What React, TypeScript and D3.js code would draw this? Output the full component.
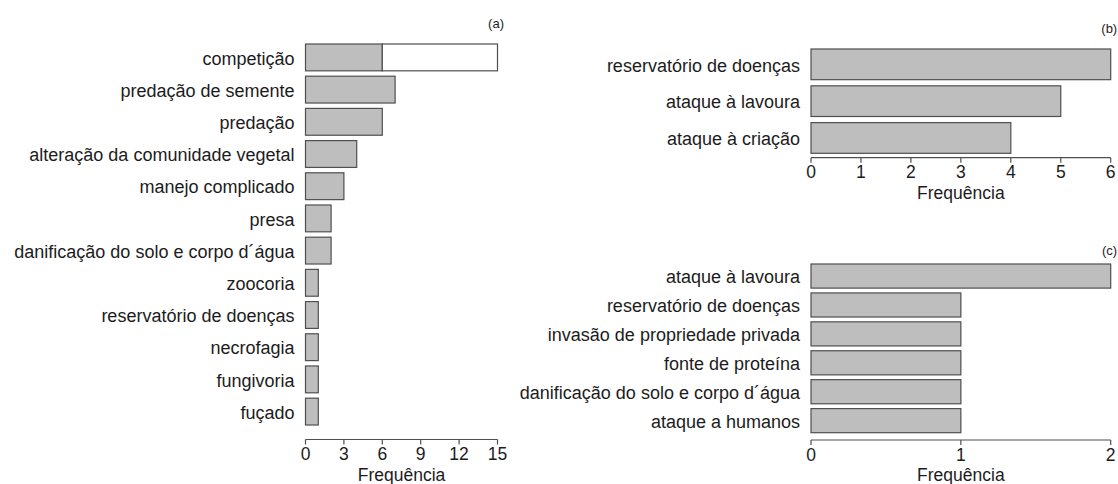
import React from 'react';
import * as d3 from 'd3';

const W = 1118;
const H = 484;

// panel (a)
const catsA = [
  'competição',
  'predação de semente',
  'predação',
  'alteração da comunidade vegetal',
  'manejo complicado',
  'presa',
  'danificação do solo e corpo d´água',
  'zoocoria',
  'reservatório de doenças',
  'necrofagia',
  'fungivoria',
  'fuçado',
];
const grayA = [6, 7, 6, 4, 3, 2, 2, 1, 1, 1, 1, 1];
const whiteA = [9, 0, 0, 0, 0, 0, 0, 0, 0, 0, 0, 0];
const ticksA = [0, 3, 6, 9, 12, 15];

// panel (b)
const catsB = ['reservatório de doenças', 'ataque à lavoura', 'ataque à criação'];
const grayB = [6, 5, 4];
const ticksB = [0, 1, 2, 3, 4, 5, 6];

// panel (c)
const catsC = [
  'ataque à lavoura',
  'reservatório de doenças',
  'invasão de propriedade privada',
  'fonte de proteína',
  'danificação do solo e corpo d´água',
  'ataque a humanos',
];
const grayC = [2, 1, 1, 1, 1, 1];
const ticksC = [0, 1, 2];

const FONT = '"Liberation Sans", Arial, Helvetica, sans-serif';
const TEXT = '#1c1c1c';
const EDGE = '#4f4f4f';
const FILLS = ['#bebebe', '#ffffff'];

type PanelProps = {
  cats: string[];
  layers: number[][];
  ticks: number[];
  xRange: [number, number];
  yRange: [number, number];
  axisY: number;
  tag: string;
  tagY: number;
};

function Panel({ cats, layers, ticks, xRange, yRange, axisY, tag, tagY }: PanelProps) {
  const x = d3.scaleLinear().domain([ticks[0], ticks[ticks.length - 1]]).range(xRange);
  const y = d3
    .scaleBand<string>()
    .domain(cats)
    .range(yRange)
    .paddingInner(1 / 6)
    .paddingOuter(0);

  const keys = layers.map((_, i) => 'k' + i);
  const rows = cats.map((c, j) => {
    const r: any = { cat: c };
    layers.forEach((l, i) => (r['k' + i] = l[j]));
    return r;
  });
  const stacked = d3.stack<any>().keys(keys)(rows);

  return (
    <g>
      {stacked.map((s, i) => (
        <g key={i}>
          {s
            .filter((d) => d[1] - d[0] > 0)
            .map((d) => (
              <rect
                key={d.data.cat}
                x={x(d[0])}
                y={y(d.data.cat)}
                width={x(d[1]) - x(d[0])}
                height={y.bandwidth()}
                fill={FILLS[i]}
                stroke={EDGE}
                strokeWidth={1.2}
              />
            ))}
        </g>
      ))}
      {cats.map((c) => (
        <text
          key={c}
          x={xRange[0] - 11}
          y={(y(c) as number) + y.bandwidth() / 2}
          dy="0.4em"
          textAnchor="end"
          fontSize={18}
          fill={TEXT}
        >
          {c}
        </text>
      ))}
      <line x1={x(ticks[0])} x2={x(ticks[ticks.length - 1])} y1={axisY} y2={axisY} stroke={EDGE} strokeWidth={1.2} />
      {ticks.map((t) => (
        <g key={t}>
          <line x1={x(t)} x2={x(t)} y1={axisY} y2={axisY + 5} stroke={EDGE} strokeWidth={1.2} />
          <text x={x(t)} y={axisY + 20.5} textAnchor="middle" fontSize={17.5} fill={TEXT}>
            {t}
          </text>
        </g>
      ))}
      <text x={(xRange[0] + xRange[1]) / 2} y={axisY + 41} textAnchor="middle" fontSize={17.5} fill={TEXT}>
        Frequência
      </text>
      <text x={xRange[1] + 6.5} y={tagY} textAnchor="end" fontSize={13} fill={TEXT}>
        {tag}
      </text>
    </g>
  );
}

export default function App() {
  return (
    <div style={{ position: 'absolute', left: 0, top: 0 }}>
      <svg width={W} height={H} style={{ display: 'block', background: '#fff', fontFamily: FONT }}>
        <Panel
          cats={catsA}
          layers={[grayA, whiteA]}
          ticks={ticksA}
          xRange={[305.5, 497.5]}
          yRange={[44, 425]}
          axisY={439.5}
          tag="(a)"
          tagY={28}
        />
        <Panel
          cats={catsB}
          layers={[grayB]}
          ticks={ticksB}
          xRange={[811, 1110.7]}
          yRange={[49, 153.3]}
          axisY={157.7}
          tag="(b)"
          tagY={32.5}
        />
        <Panel
          cats={catsC}
          layers={[grayC]}
          ticks={ticksC}
          xRange={[811, 1110.7]}
          yRange={[264, 432.7]}
          axisY={440}
          tag="(c)"
          tagY={255}
        />
      </svg>
    </div>
  );
}
